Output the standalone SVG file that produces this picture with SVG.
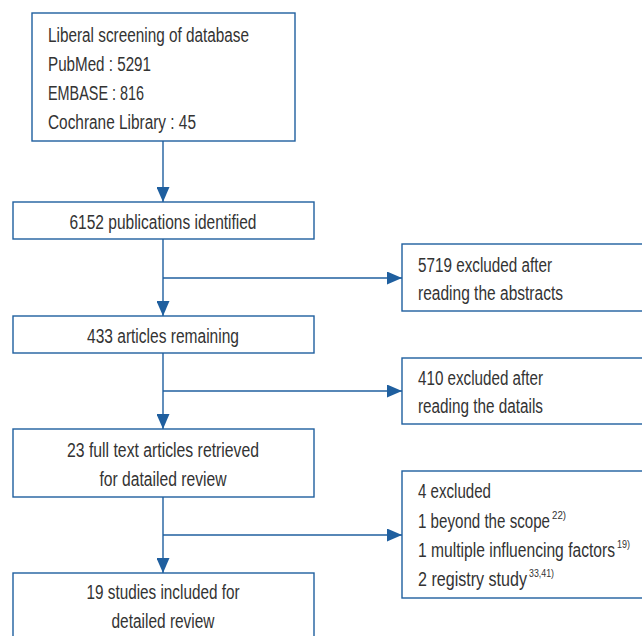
<svg xmlns="http://www.w3.org/2000/svg" width="642" height="636" viewBox="0 0 642 636">
<style>
.box{fill:#fff;stroke:#1f5f9f;stroke-width:1.4}
.ln{stroke:#1f5f9f;stroke-width:1.4;fill:none}
text{font-family:"Liberation Sans",Arial,sans-serif;font-size:19.5px;fill:#333}
.c{text-anchor:middle}
.sup{font-size:10.5px}
</style>
<defs>
<marker id="ah" markerUnits="userSpaceOnUse" markerWidth="16" markerHeight="13" refX="15" refY="6.5" orient="auto">
<path d="M0,0 L15,6.5 L0,13 Z" fill="#1f5f9f"/>
</marker>
</defs>
<rect width="642" height="636" fill="#fff"/>
<g id="connectors">
<line class="ln" x1="163" y1="141" x2="163" y2="202" marker-end="url(#ah)"/>
<line class="ln" x1="163" y1="239" x2="163" y2="316" marker-end="url(#ah)"/>
<line class="ln" x1="163" y1="278" x2="402" y2="278" marker-end="url(#ah)"/>
<line class="ln" x1="163" y1="353" x2="163" y2="429" marker-end="url(#ah)"/>
<line class="ln" x1="163" y1="391" x2="402" y2="391" marker-end="url(#ah)"/>
<line class="ln" x1="163" y1="497" x2="163" y2="573" marker-end="url(#ah)"/>
<line class="ln" x1="163" y1="535" x2="402" y2="535" marker-end="url(#ah)"/>
</g>
<g id="n1">
<rect class="box" x="32" y="13" width="263" height="128"/>
<text x="48" y="42" textLength="201" lengthAdjust="spacingAndGlyphs">Liberal screening of database</text>
<text x="48" y="71" textLength="103" lengthAdjust="spacingAndGlyphs">PubMed : 5291</text>
<text x="48" y="100" textLength="96" lengthAdjust="spacingAndGlyphs">EMBASE : 816</text>
<text x="48" y="129" textLength="148" lengthAdjust="spacingAndGlyphs">Cochrane Library : 45</text>
</g>
<g id="n2">
<rect class="box" x="13" y="202" width="301" height="37"/>
<text class="c" x="163" y="229" textLength="187" lengthAdjust="spacingAndGlyphs">6152 publications identified</text>
</g>
<g id="n3">
<rect class="box" x="13" y="316" width="301" height="37"/>
<text class="c" x="163" y="343" textLength="152" lengthAdjust="spacingAndGlyphs">433 articles remaining</text>
</g>
<g id="n4">
<rect class="box" x="13" y="429" width="301" height="68"/>
<text class="c" x="163" y="457" textLength="192" lengthAdjust="spacingAndGlyphs">23 full text articles retrieved</text>
<text class="c" x="163" y="486" textLength="127" lengthAdjust="spacingAndGlyphs">for datailed review</text>
</g>
<g id="n5">
<rect class="box" x="13" y="573" width="301" height="80"/>
<text class="c" x="163" y="599" textLength="153" lengthAdjust="spacingAndGlyphs">19 studies included for</text>
<text class="c" x="163" y="628" textLength="103" lengthAdjust="spacingAndGlyphs">detailed review</text>
</g>
<g id="r1">
<rect class="box" x="402" y="244" width="260" height="67"/>
<text x="418" y="272" textLength="134" lengthAdjust="spacingAndGlyphs">5719 excluded after</text>
<text x="418" y="300" textLength="145" lengthAdjust="spacingAndGlyphs">reading the abstracts</text>
</g>
<g id="r2">
<rect class="box" x="402" y="358" width="260" height="66"/>
<text x="418" y="385" textLength="125" lengthAdjust="spacingAndGlyphs">410 excluded after</text>
<text x="418" y="413" textLength="125" lengthAdjust="spacingAndGlyphs">reading the datails</text>
</g>
<g id="r3">
<rect class="box" x="402" y="471" width="260" height="127"/>
<text x="418" y="498" textLength="73" lengthAdjust="spacingAndGlyphs">4 excluded</text>
<text x="418" y="528"><tspan textLength="132" lengthAdjust="spacingAndGlyphs">1 beyond the scope</tspan><tspan class="sup" x="552" y="519" textLength="14" lengthAdjust="spacingAndGlyphs">22)</tspan></text>
<text x="418" y="557"><tspan textLength="197" lengthAdjust="spacingAndGlyphs">1 multiple influencing factors</tspan><tspan class="sup" x="617" y="548" textLength="13" lengthAdjust="spacingAndGlyphs">19)</tspan></text>
<text x="418" y="586"><tspan textLength="109" lengthAdjust="spacingAndGlyphs">2 registry study</tspan><tspan class="sup" x="529" y="577" textLength="25" lengthAdjust="spacingAndGlyphs">33,41)</tspan></text>
</g>
</svg>
